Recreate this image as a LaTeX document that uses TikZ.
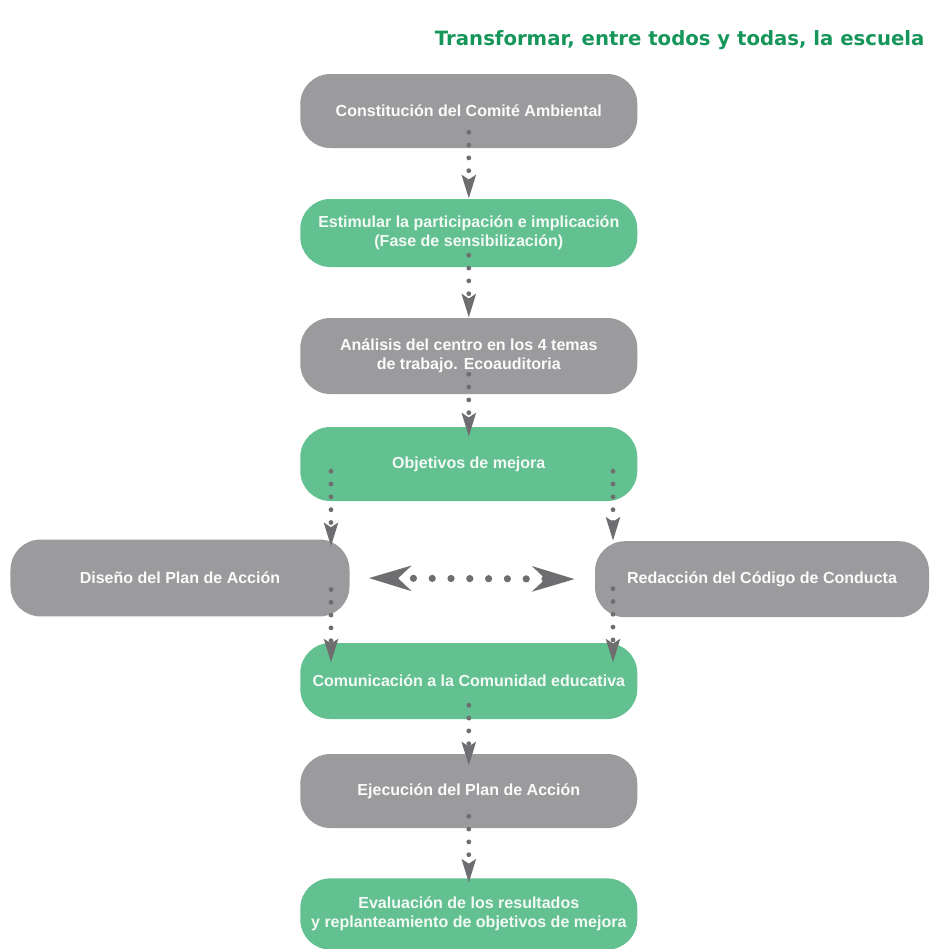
\documentclass[tikz,border=0pt]{standalone}
\usepackage{fontspec}
\setmainfont{Liberation Sans}
\newfontfamily\titlefont{DejaVu Sans}
\usepackage{xcolor}
\usetikzlibrary{arrows.meta}
\definecolor{boxgray}{HTML}{9B9B9E}
\definecolor{boxgreen}{HTML}{63C091}
\definecolor{arrowgray}{HTML}{6E6E70}
\definecolor{titlegreen}{HTML}{16965A}

\begin{document}
\begin{tikzpicture}[
    stage/.style={rounded corners=0.75cm, minimum width=8.425cm, minimum height=1.85cm, align=center, font=\fontsize{11.4}{13.5}\selectfont\bfseries},
    graystage/.style={stage, fill=boxgray, text=white!96!boxgray},
    greenstage/.style={stage, fill=boxgreen, text=white!92!boxgreen},
    flow/.style={arrowgray, line width=0.12cm, line cap=round, dash pattern=on 0pt off 0.32cm, -{Stealth[length=0.58cm, width=0.34cm, inset=0.1cm]}},
    swapflow/.style={arrowgray, line width=0.18cm, line cap=round, dash pattern=on 0pt off 0.47cm, {Stealth[length=1.05cm, width=0.62cm, inset=0.32cm]}-{Stealth[length=1.05cm, width=0.62cm, inset=0.32cm]}}
]
        %frame
        \useasboundingbox (0,0) rectangle (23.225,-23.725);
        % title
        \node[anchor=west, text=titlegreen, font=\titlefont\fontsize{14}{17}\selectfont\bfseries] (title) at (10.75,-1.0) {Transformar, entre todos y todas, la escuela};
        % central column
        \node[graystage] (comite) at (11.72,-2.775) {Constitución del Comité Ambiental};
        \node[greenstage, minimum height=1.7cm] (estimular) at (11.72,-5.825) {Estimular la participación e implicación\\(Fase de sensibilización)};
        \node[graystage, minimum height=1.9cm] (analisis) at (11.72,-8.9) {Análisis del centro en los 4 temas\\de trabajo. Ecoauditoria};
        \node[greenstage] (objetivos) at (11.72,-11.6) {Objetivos de mejora};
        % side boxes
        \node[graystage, minimum width=8.475cm, minimum height=1.92cm] (diseno) at (4.5,-14.45) {Diseño del Plan de Acción};
        \node[graystage, minimum width=8.35cm, minimum height=1.9cm] (codigo) at (19.05,-14.48) {Redacción del Código de Conducta};
        % lower column
        \node[greenstage, minimum height=1.9cm] (comunicacion) at (11.72,-17.025) {Comunicación a la Comunidad educativa};
        \node[graystage] (ejecucion) at (11.72,-19.775) {Ejecución del Plan de Acción};
        \node[greenstage, minimum height=1.78cm] (evaluacion) at (11.72,-22.85) {Evaluación de los resultados\\y replanteamiento de objetivos de mejora};
        % branch lines
        \coordinate (lbranch) at (8.275,0);
        \coordinate (rbranch) at (15.325,0);
        % arrows down
        \draw[flow, shorten <=-0.4cm] (comite) -- (estimular);
        \draw[flow, shorten <=-0.3cm] (estimular) -- (analisis);
        \draw[flow, shorten <=-0.5cm, shorten >=-0.25cm] (analisis) -- (objetivos);
        \draw[flow, shorten <=-0.75cm, shorten >=-0.18cm] (objetivos.south -| lbranch) -- (diseno.north -| lbranch);
        \draw[flow, shorten <=-0.75cm] (objetivos.south -| rbranch) -- (codigo.north -| rbranch);
        \draw[flow, shorten <=-0.68cm, shorten >=-0.5cm] (diseno.south -| lbranch) -- (comunicacion.north -| lbranch);
        \draw[flow, shorten <=-0.72cm, shorten >=-0.5cm] (codigo.south -| rbranch) -- (comunicacion.north -| rbranch);
        \draw[flow, shorten <=-0.35cm, shorten >=-0.3cm] (comunicacion) -- (ejecucion);
        \draw[flow, shorten <=-0.3cm, shorten >=-0.12cm] (ejecucion) -- (evaluacion);
        % both ways
        \draw[swapflow, shorten <=0.475cm, shorten >=0.5cm] (diseno.east) -- (codigo.west);
\end{tikzpicture}
\end{document}
